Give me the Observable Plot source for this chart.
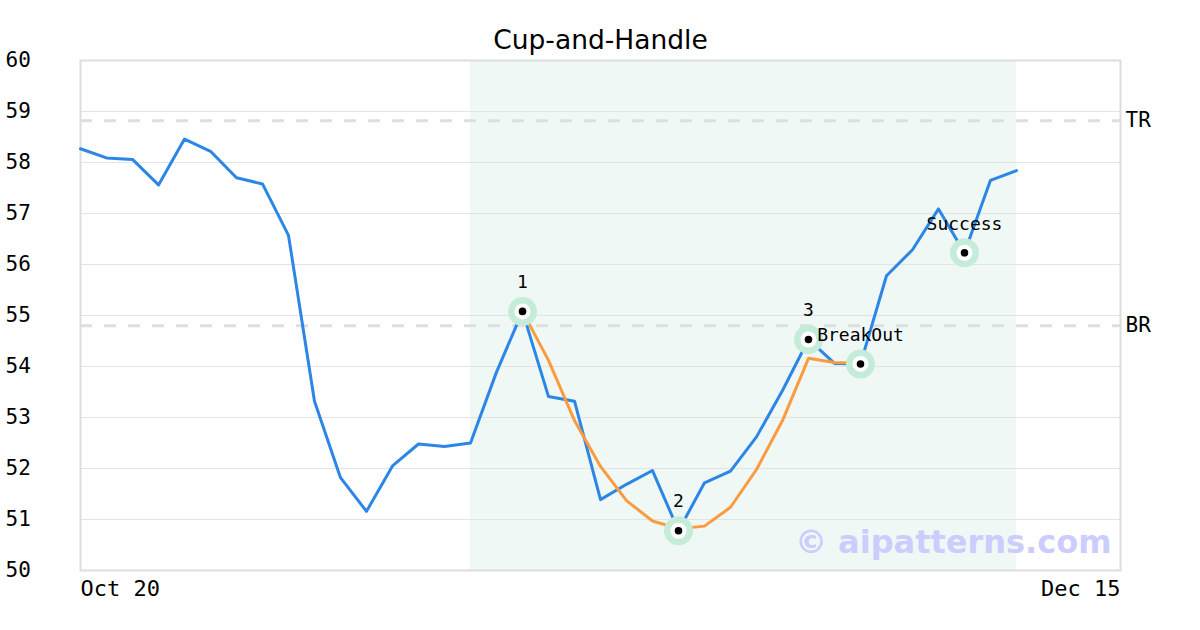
<!DOCTYPE html>
<html>
<head>
<meta charset="utf-8">
<script src="https://cdn.jsdelivr.net/npm/d3@7"></script>
<script src="https://cdn.jsdelivr.net/npm/@observablehq/plot@0.6"></script>
<style>
  html, body { margin: 0; padding: 0; background: #fff; }
  #chart { width: 1200px; height: 630px; }
</style>
</head>
<body>
<div id="chart"></div>
<script>
// ---- data ----
const closes = [58.27, 58.09, 58.06, 57.56, 58.46, 58.22, 57.70, 57.58, 56.57, 53.32,
                51.82, 51.16, 52.05, 52.48, 52.43, 52.50, 53.89, 55.08, 53.41, 53.32,
                51.39, 51.69, 51.96, 50.78, 51.72, 51.95, 52.62, 53.53, 54.53, 54.06,
                54.05, 55.78, 56.29, 57.09, 56.23, 57.65, 57.84];
const fitStart = 17;
const fitValues = [55.08, 54.12, 52.94, 52.04, 51.37, 50.97, 50.82, 50.87, 51.24, 51.98,
                   52.94, 54.16, 54.08, 54.07];
const pointIdx = [17, 23, 28, 30, 34];
const pointLabels = ["1", "2", "3", "BreakOut", "Success"];
const levelNames = ["TR", "BR"];
const levelValues = [58.82, 54.80];
const patternRange = [15, 36];
const xTickPos = [0, 40];
const xTickLabels = ["Oct 20", "Dec 15"];
const yTicks = [50, 51, 52, 53, 54, 55, 56, 57, 58, 59, 60];
const title = "Cup-and-Handle";
const watermark = "© aipatterns.com";

// ---- build tables ----
const price = closes.map((v, i) => ({i, v}));
const fit = fitValues.map((v, k) => ({i: fitStart + k, v}));
const pts = pointIdx.map((i, k) => ({i, v: closes[i], label: pointLabels[k]}));
const levels = levelNames.map((n, k) => ({name: n, v: levelValues[k]}));
const xLabels = xTickPos.map((p, k) => ({p, label: xTickLabels[k], anchor: k === 0 ? "start" : "end"}));

const mono = "'DejaVu Sans Mono', monospace";
const sans = "'DejaVu Sans', sans-serif";

const chart = Plot.plot({
  width: 1200,
  height: 630,
  marginLeft: 80,
  marginRight: 80,
  marginTop: 60,
  marginBottom: 60,
  style: {fontFamily: mono, background: "#fff", overflow: "visible"},
  x: {domain: [0, 40], axis: null},
  y: {domain: [50, 60], axis: null},
  marks: [
    Plot.rectX([{x1: patternRange[0], x2: patternRange[1]}], {x1: "x1", x2: "x2", fill: "#eff8f4"}),
    Plot.gridY(yTicks, {stroke: "#e3e3e3", strokeOpacity: 1, strokeWidth: 1}),
    Plot.ruleY(levels, {y: "v", stroke: "#dedede", strokeWidth: 3, strokeDasharray: "12,12"}),
    Plot.text(levels, {y: "v", text: "name", frameAnchor: "right", textAnchor: "start", dx: 5, fontSize: 21, fill: "#000", fontFamily: mono}),
    Plot.frame({stroke: "#dddddd", strokeWidth: 2}),
    Plot.axisY(yTicks, {tickSize: 0, tickPadding: 0, tickFormat: d => String(d), textAnchor: "start", dx: -75, fontSize: 21, fill: "#000", fontFamily: mono, label: null}),
    Plot.text(xLabels.filter(d => d.anchor === "start"), {x: "p", text: "label", frameAnchor: "bottom", textAnchor: "start", lineAnchor: "middle", dy: 18, fontSize: 22, fill: "#000", fontFamily: mono}),
    Plot.text(xLabels.filter(d => d.anchor === "end"), {x: "p", text: "label", frameAnchor: "bottom", textAnchor: "end", lineAnchor: "middle", dy: 18, fontSize: 22, fill: "#000", fontFamily: mono}),
    Plot.text([watermark], {frameAnchor: "bottom-right", text: d => d, lineAnchor: "middle", dx: -9, dy: -28, fontSize: 32, fontWeight: "bold", fill: "#ccccff", fontFamily: sans}),
    Plot.line(price, {x: "i", y: "v", stroke: "#2b86e6", strokeWidth: 3}),
    Plot.line(fit, {x: "i", y: "v", stroke: "#fa9b40", strokeWidth: 3}),
    Plot.dot(pts, {x: "i", y: "v", r: 14.5, fill: "#c5ecd9", stroke: null}),
    Plot.dot(pts, {x: "i", y: "v", r: 8, fill: "#fff", stroke: null}),
    Plot.dot(pts, {x: "i", y: "v", r: 3.8, fill: "#000", stroke: null}),
    Plot.text(pts, {x: "i", y: "v", text: "label", dy: -29, fontSize: 18, fill: "#000", fontFamily: mono}),
    Plot.text([title], {frameAnchor: "top", text: d => d, lineAnchor: "middle", dy: -20, fontSize: 26.5, fill: "#000", fontFamily: sans})
  ]
});
document.getElementById("chart").appendChild(chart);
</script>
</body>
</html>
